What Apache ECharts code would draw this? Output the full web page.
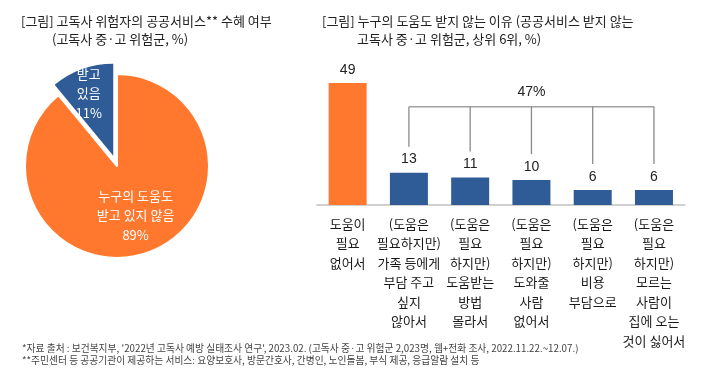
<!DOCTYPE html>
<html>
<head>
<meta charset="utf-8">
<script src="https://cdn.jsdelivr.net/npm/echarts@6/dist/echarts.min.js"></script>
<style>
html,body{margin:0;padding:0;background:#fff;}
#chart{width:701px;height:382px;}
</style>
</head>
<body>
<div id="chart"></div>
<script>
// ---- data ----
const pieNames = ['누구의 도움도\n받고 있지 않음', '받고\n있음'];
const pieValues = [89, 11];
const barCategories = [
  '도움이\n필요\n없어서',
  '(도움은\n필요하지만)\n가족 등에게\n부담 주고\n싶지\n않아서',
  '(도움은\n필요\n하지만)\n도움받는\n방법\n몰라서',
  '(도움은\n필요\n하지만)\n도와줄\n사람\n없어서',
  '(도움은\n필요\n하지만)\n비용\n부담으로',
  '(도움은\n필요\n하지만)\n모르는\n사람이\n집에 오는\n것이 싫어서'
];
const barValues = [49, 13, 11, 10, 6, 6];
const bracketIndices = [1, 2, 3, 4, 5];
const bracketTotalLabel = '47%';
const titleLeft = ['[그림] 고독사 위험자의 공공서비스** 수혜 여부', '(고독사 중·고 위험군, %)'];
const titleRight = ['[그림] 누구의 도움도 받지 않는 이유 (공공서비스 받지 않는', '고독사 중·고 위험군, 상위 6위, %)'];
const footnotes = [
  "*자료 출처 : 보건복지부, '2022년 고독사 예방 실태조사 연구', 2023.02. (고독사 중·고 위험군 2,023명, 웹+전화 조사, 2022.11.22.~12.07.)",
  '**주민센터 등 공공기관이 제공하는 서비스: 요양보호사, 방문간호사, 간병인, 노인돌봄, 부식 제공, 응급알람 설치 등'
];

// ---- style ----
const ORANGE = '#FF782E';
const BLUE = '#2F5B97';
const KR = '"Noto Sans CJK KR", "Noto Sans", sans-serif';
const TXT = '#222';

const chart = echarts.init(document.getElementById('chart'), null, {renderer: 'canvas'});

function titleItem(text, left, top, size, color) {
  return {text: text, left: left, top: top, padding: 0,
    textStyle: {fontFamily: KR, fontSize: size, fontWeight: 'normal', color: color, lineHeight: size + 4}};
}

const BRACKET_LEVEL = 39.5; // axis units for horizontal bracket
const DROP_GAP = 26;        // px gap above bar top

const option = {
  animation: false,
  backgroundColor: '#fff',
  title: [
    titleItem(titleLeft[0], 21, 13, 13, TXT),
    titleItem(titleLeft[1], 52, 31, 13, TXT),
    titleItem(titleRight[0], 322, 13, 13, TXT),
    titleItem(titleRight[1], 357, 31, 13, TXT),
    titleItem(footnotes[0], 22, 341, 9.75, '#444'),
    titleItem(footnotes[1], 22, 353, 9.75, '#444')
  ],
  grid: {left: 317, right: 16.4, top: 55.6, bottom: 177},
  xAxis: {
    type: 'category',
    data: barCategories,
    axisLine: {lineStyle: {color: '#d0d0d0', width: 2}},
    axisTick: {show: false},
    axisLabel: {interval: 0, fontFamily: KR, fontSize: 13, color: '#1a1a1a', lineHeight: 19.5, margin: 9}
  },
  yAxis: {type: 'value', min: 0, max: 60, show: false, splitLine: {show: false}},
  series: [
    {
      type: 'pie',
      center: [117, 166],
      radius: 92,
      startAngle: 90,
      clockwise: true,
      selectedMode: 'single',
      selectedOffset: 11,
      data: pieNames.map((n, i) => ({
        name: n, value: pieValues[i], selected: i === 1,
        itemStyle: {color: i === 0 ? ORANGE : BLUE, borderColor: '#fff', borderWidth: i === 0 ? 2 : 0}
      })),
      label: {
        show: true, position: 'inside', formatter: '{b}\n{c}%',
        color: '#fff', fontFamily: KR, fontSize: 13, lineHeight: 19.5
      },
      labelLine: {show: false},
      labelLayout: function (p) {
        return p.dataIndex === 1 ? {dx: -8, dy: -16} : {dx: 2, dy: 3};
      },
      emphasis: {disabled: true}
    },
    {
      type: 'bar',
      data: barValues.map((v, i) => ({value: v, itemStyle: {color: i === 0 ? ORANGE : BLUE}})),
      barWidth: 38,
      label: {show: true, position: 'top', distance: 6, fontFamily: '"Liberation Sans", Arial, sans-serif', fontSize: 14, color: TXT},
      emphasis: {disabled: true}
    },
    {
      type: 'custom',
      silent: true,
      data: bracketIndices.map(i => [i, barValues[i]]),
      renderItem: function (params, api) {
        const idx = api.value(0);
        const top = api.coord([idx, api.value(1)]);
        const lvl = api.coord([idx, BRACKET_LEVEL]);
        const children = [{
          type: 'line',
          shape: {x1: lvl[0], y1: lvl[1], x2: top[0], y2: top[1] - DROP_GAP},
          style: {stroke: '#8a8a8a', lineWidth: 1.3}
        }];
        if (params.dataIndex === 0) {
          const a = api.coord([bracketIndices[0], BRACKET_LEVEL]);
          const b = api.coord([bracketIndices[bracketIndices.length - 1], BRACKET_LEVEL]);
          children.push({
            type: 'line',
            shape: {x1: a[0], y1: a[1], x2: b[0], y2: b[1]},
            style: {stroke: '#a0a0a0', lineWidth: 1.5}
          });
          const mid = api.coord([(bracketIndices[0] + bracketIndices[bracketIndices.length - 1]) / 2, BRACKET_LEVEL]);
          children.push({
            type: 'text',
            style: {text: bracketTotalLabel, x: mid[0], y: mid[1] - 15, align: 'center', verticalAlign: 'middle',
              font: '14px "Liberation Sans", Arial, sans-serif', fill: TXT}
          });
        }
        return {type: 'group', children: children};
      },
      z: 3
    }
  ]
};
chart.setOption(option);
</script>
</body>
</html>
